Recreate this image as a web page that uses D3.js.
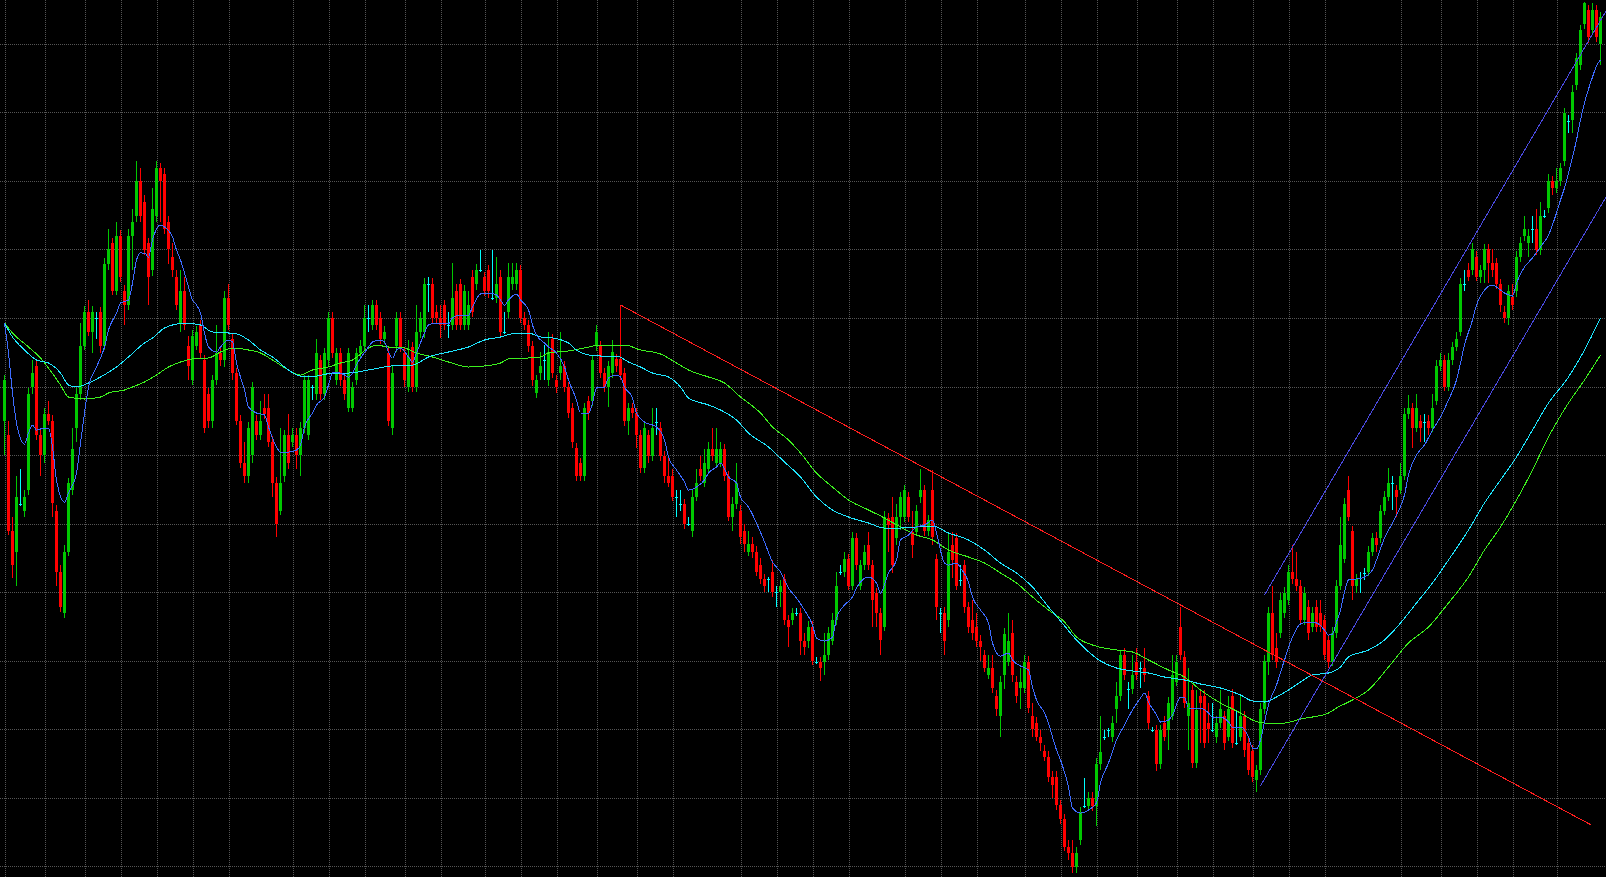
<!DOCTYPE html>
<html>
<head>
<meta charset="utf-8">
<script src="https://cdn.jsdelivr.net/npm/d3@7"></script>
<style>
  html, body { margin: 0; padding: 0; background: #000; overflow: hidden; }
  svg { display: block; }
</style>
</head>
<body>
<svg id="chart" width="1606" height="877"></svg>
<script>
// ---- price bars (400 sessions, oldest first) ----
const opens = [
579.3,565,469.3,448.3,496,489.3,510,612.7,634,565,
545,586,579.3,489.3,428.3,386.7,448.3,510,572,606,
654.3,688,668.3,682,688,654.3,736,757,709.3,764,
709.3,695,764,784,819,798,757,730,784,832,
826,778,743.3,723.3,677,709.3,654.3,620,654.3,675,
640,606,579.3,620,647.3,640,702,661.3,627.3,579.3,
536.7,524,545,579.3,565,592.3,592.3,558.3,517.3,489.3,
524,565,558.3,565,545,572,565,612.7,606,640,
606,640,682,620,647.3,620,592.3,592.3,620,647.3,
654.3,682,675,695,682,661.3,647.3,572,654.3,682,
647,613,653,613,668,668,716,716,688,682,
695,675,675,709,716,675,675,723,716,730,
723,730,702,702,723,668,688,716,716,730,
682,675,654,607,627,640,620,661,620,627,
634,613,592,552,537,524,599,599,654,654,
627,613,627,641,641,627,579,592,587,565,
532,565,544,578.3,572,544,524,524,502.7,496,
496,476,469.3,503.3,531,517.3,530.7,550.7,537.3,537.3,
550.7,524,483.3,496,489.3,469.3,448.3,456,448.3,435,
421,421,427.7,407.7,407.7,421,380,380,386.7,386.7,
359.3,359.3,373.3,338.3,338.3,338.3,345,359.3,380,427.7,
427.7,441,414.3,461.7,414,435,455,435,407.3,386.7,
373.3,482,482.7,461.7,482.7,482.7,502.7,468.3,468.3,503.3,
510,469.3,510,441,386.7,386.7,380,455,461.7,420,
435,393.3,380,373.3,359.3,345,325.3,331.7,304,284,
325.3,338.3,366.7,318,311.7,311.7,338.3,284,277.3,263.3,
249.3,243.3,222.7,222.7,195,180.7,153.3,146.7,132.7,160,
194,194,201.7,194,236,263.3,270,263.3,290.7,304,
345,310.7,310.7,338.3,331.7,331.7,304,270,270,236,
277.3,270,284,318.3,373.3,343.3,284,310,236.7,304,
304,277.3,270,263.3,277.3,284,263.3,304,256.7,263.3,
284,256.7,249.3,220,230,290.7,338.3,386.7,351.7,366.7,
387.3,400,428.3,420.7,414,380,393.3,373.3,393.3,386.7,
380,360,338.3,366.7,414,441.3,510,469,414,421.7,
427.3,428.3,448.3,461.7,461.7,489.3,503.3,516.7,510,510,
524,586,591.7,571.7,579.3,578.3,579.3,571.7,599.3,634,
640,613.3,640,653.3,668.3,716,730,730,743.3,723.3,
730,750.7,736.7,736.7,716,688.3,681.7,702.7,709.3,743.3,
764,757.3,770.7,770.7,750,784,791.7,819,811.7,819,
839.3,879.3,880,915,935,976,990,970,990,955.7
];
const highs = [
625,579.3,483.3,524,531,510,612,640,640,570,
592,599,585,495,435,455,522,572,612,677,
694,700,694,688,693,742,771.3,762,778,770,
715,771.3,791,839,832,805,762,812,839,837,
832,784,757,730,730,723.3,664,670,674,680,
645,612,625,675,652,709.3,716,667,632,585,
558.3,578,618,585,599,606,606,564,523,572,
570,586,572,572,578,625,625,615,661.3,645,
652,688,688,652,652,625,652,618,652,660,
695,695,700,700,688,674,653,634,688,688,
652,660,658,695,688,722,723,722,695,695,
700,688,737,716,721,715,709,730,736,750,
728,735,750,743,730,688,737,737,737,735,
688,680,659,625,648,655,668,666,625,668,
639,618,597,557,542,597,604,645,675,659,
632,639,660,646,695,632,597,597,592,570,
577,570,592,592,578.3,549,544,531,510,510,
501,483,510,531,544,550.7,558.3,572,572,558.3,
556,529,503.3,537.3,495,476,469.3,462.7,454,441.7,
426,423,440,414.3,420,426,385,392,392,392,
366.7,379,379,343,343,366.7,373.3,386.7,427.7,435,
448.3,446,468.3,467,440,455,468.3,440,412,392,
489.3,487,502.7,496,508,515,508,489.3,495,531,
515,485,530,446,392,393.3,468.3,468.3,467,435,
440,398,400,386.7,365,350,345,345,310,324,
372,386.7,380,324,332.3,345,344,297,283,270,
255,249,229.3,229.3,200,186,160,160,153.3,193,
222,208.3,208.3,242,284,270,272,284,318.3,350,
351.7,318.3,345,351.7,338.3,351.7,309,273,275,275,
284,303,345,345,393.3,349,332,315,310,310,
310,297.3,297,284,310,289,304,310.7,290,304,
289,263.3,255,235,297,345,393,414,367,407.3,
413,435,455,448.3,420,413,400,393.3,400,400,
385,365,373,420,483.3,502,524,474,426,428,
432,454,467,468.3,495,509,532,524,515,537,
592,605,597,606,585,586,585,606,640,647,
645,647,658,668.3,722,730,736.7,757.3,749,735,
756,756,750.7,742,721,694,715,716,749,763,
784,770.7,784,790.7,798.3,790,826,824,831.7,837,
892,885,915,947,975,998,995,996.7,995,988
];
const lows = [
545,465,422,414.3,494,483.3,505,606,560,524,
537,575,483.3,414.3,388,382,444,505,558.3,600,
650,664,647.3,661.3,647.3,650,730,705,705,718,
675,690,730,778,778,745,695,724,778,778,
766,736,723.3,690,668.3,670,620,615,650,642,
567,572,572,615,634,633.3,670,620,575,532,
517.3,517.3,537,560,560,581,553,503.3,462.7,485,
518,531,553,531,524,567,560,600,600,600,
600,634,642,615,614,600,588,588,615,642,
650,668.3,670,670,656,656,574,565,648,648,
613,608,608,608,662,662,688,676,677,662,
670,662,670,670,670,670,670,683,710,728,
704,702,700,697,663,666,682,710,710,677,
670,648,614,602,620,620,614,622,607,620,
608,582,552,519,519,519,580,594,649,622,
608,593,622,628,620,574,565,582,552,527,
527,537,539,565,539,517.3,513,499,483.3,489.3,
471,474,462.7,499,519,513,526,539,533,533,
519,479,469.3,491,456,448.3,444,441.7,424,416,
407.7,408,403,393.3,393.3,375,353.3,375,384,345,
345,352,335,336,319,325,340,355,375,425,
423,410,410,430,410,430,430,373.3,373.3,345,
369,448.3,427.3,455,470,478,478,441.7,464,496.7,
464,464,455,380,366.7,345,373.3,422,410,414,
386.7,366.7,360,352.7,339.3,328,321,307,284,263.3,
311.3,334,318,297.3,290.7,307,287,263.3,259,249.3,
239,218,201.7,190,176,149,140,126.7,126.7,155,
192,189,189,174,230,260,263,258,276.7,299,
320,290.7,306,320,311.7,318.3,270.7,268,229.3,231,
259,250,280,314,340,292,250,232,232,257,
252,256.7,268,256.7,272,250,259,252,255,259,
243.3,225,218,208.3,225,286,325,340,332,362,
382,395,416,409,375,375,360,368,368,368,
340,332,334,362,410,437,479,400,407.3,407.3,
420,424,444,448.3,457,485,499,490,483.3,506,
520,581,551.7,568,558.3,558.3,565,568,595,629,
609,609,635,649,664,709.3,719,725,719,717,
717,717,723.3,711,688.3,677,675,690,703,738,
759,743.3,757.3,745,745,782,787,805,807,814,
834,866.7,866.7,910,930,971,956.7,965,958,935
];
const closes = [
620,469.3,435,503.3,496,503.3,606,627.3,565,545,
586,579.3,497,428.3,393.3,448.3,517.3,551,606,654.3,
688,668.3,688,682,654.3,736,751,709.3,764,723.3,
695,764,778,819,784,750,723.3,791,832,819,
771.3,751,730,695,709.3,675,634.3,664,668.3,647.3,
572,579.3,620,647.3,640,702,675,627.3,579.3,536.7,
524,572,612.7,565,579.3,586,558.3,517.3,475.7,517.3,
565,536.7,565,545,572,620,620,612.7,647.3,606,
647.3,682,647.3,647,620,606,647.3,613,647.3,654.3,
682,682,695,675,661.3,668.3,579.3,627.3,682,653.3,
620,643,613,668,682,716,716,682,682,675,
675,675,702,675,675,709,695,688,730,730,
709,709,702,716,668,668,723,723,730,682,
675,654,620,620,634,640,648,627,613,634,
613,587,558,524,524,592,587,640,668,627,
613,634,648,634,625,579,592,587,565,532,
572,544,572,578.3,544,524,517.3,503.3,502.7,496,
476,476,503.3,517.3,524,537.3,550.7,544,550.7,550.7,
524,483.3,496,517.3,462.7,456,456,448.3,428.3,421,
414.3,421,407.7,407.7,414.3,380,373.3,386.7,386.7,359.3,
352.7,373.3,339.3,338.3,331.7,345,366.7,380,414.3,427.7,
441,414.3,461.7,435,435,448.3,435,400,386.7,360,
482.7,475,435,482.7,502.7,510,482.7,455,489.3,510,
469.3,480,463.3,393.3,386.7,359.3,448.3,440,414,420,
393.3,373.3,366.7,359.3,352.7,332.3,332.3,311.7,290.7,318,
366,359,325,304,318,338.3,291.7,270.7,263.3,256.7,
243.3,222.7,215,195,180.7,153.3,146.7,132.7,146.7,187.3,
194,201.7,194,236,248.3,263.3,270,276.7,304,345,
325,310.7,325,325,331.7,325,277.3,270,236,270,
263.3,297.3,325,338.3,345,296.7,296.7,236.7,290,296.7,
256.7,270.7,270,277.3,290.7,256.7,290.7,256.7,256.7,284,
250,230,222.7,230,290.7,339.3,386.7,345,338.3,400,
407,428.3,420.7,414,380,407.3,366.7,386.7,373.3,373.3,
345,338.3,366.7,414,455,496,483.3,414,420.7,421.7,
427.3,448.3,461.7,455,489.3,503.3,517.3,516.7,503.3,524,
586,591.7,571.7,591.7,571.7,578.3,571.7,591.7,634,640,
613.3,640,653.3,660.7,716,716,723.3,750.7,723.3,730,
750.7,736.7,730,716,695,681.7,709.3,695,743.3,757.3,
770.7,764,770.7,750,784,784,819,811.7,819,831.7,
886.7,879.3,907.7,941.7,970,996.7,963.3,990,963.3,982.7
];

// ---- indicator lines: [bar, value] ----
const fastMA = [
[0,677],[1,647],[2,607],[3,577],[5,556],[6,567],[7,575],[8,570],[10,572],[11,572],[12,553],[13,520],[15,498],[16,507],[18,527],[19,557],[20,587],[21,613],[23,633],[25,653],[26,670],[28,687],[29,697],[31,700],[32,717],[33,740],[34,747],[35,747],[36,743],[37,760],[39,775],[40,773],[42,763],[43,750],[44,740],[45,727],[46,713],[47,700],[48,695],[49,687],[50,667],[51,653],[53,648],[54,653],[56,660],[57,658],[58,637],[60,610],[61,593],[63,587],[65,585],[66,573],[68,553],[69,548],[71,548],[73,550],[74,555],[75,573],[77,587],[78,595],[80,603],[81,615],[82,627],[83,628],[85,625],[86,623],[87,627],[88,635],[91,653],[92,658],[94,660],[95,658],[96,648],[97,642],[98,650],[99,652],[101,643],[102,638],[103,647],[105,667],[106,675],[108,677],[111,676],[112,682],[114,685],[116,685],[117,693],[119,706],[121,707],[123,705],[124,700],[125,695],[126,700],[128,706],[129,700],[131,690],[132,675],[133,665],[135,657],[136,653],[138,647],[140,633],[141,620],[143,600],[144,587],[146,587],[147,597],[148,612],[150,613],[151,622],[153,625],[154,623],[155,613],[157,602],[158,587],[160,578],[162,575],[163,573],[165,560],[166,543],[168,530],[170,518],[171,510],[173,513],[175,520],[176,527],[178,533],[179,537],[181,523],[183,517],[184,503],[186,493],[188,477],[190,458],[192,438],[194,428],[196,412],[198,402],[200,390],[202,375],[203,362],[205,359],[207,363],[208,382],[210,395],[212,403],[213,412],[214,418],[216,423],[218,417],[219,407],[221,427],[223,440],[224,460],[226,465],[228,473],[230,475],[232,480],[233,467],[235,437],[236,435],[238,437],[239,432],[241,418],[242,403],[244,390],[246,377],[247,357],[249,344],[251,347],[252,340],[254,334],[256,330],[257,313],[258,300],[260,287],[261,277],[262,263],[263,250],[264,240],[266,213],[267,192],[269,187],[271,190],[273,197],[274,217],[276,237],[278,260],[280,275],[282,290],[284,302],[285,307],[286,298],[288,285],[289,278],[291,280],[292,285],[294,303],[295,303],[296,292],[299,292],[301,287],[302,283],[304,283],[306,278],[307,273],[309,273],[311,263],[312,252],[313,251],[314,260],[315,278],[316,295],[318,315],[320,340],[322,363],[324,376],[326,378],[328,377],[330,370],[331,365],[332,366],[333,378],[334,390],[335,408],[336,420],[338,421],[340,423],[342,430],[343,440],[345,462],[347,477],[348,485],[350,505],[351,525],[353,545],[355,555],[357,570],[359,583],[361,600],[363,620],[364,637],[365,655],[367,680],[368,695],[370,710],[372,715],[373,713],[375,707],[377,704],[378,717],[380,733],[382,742],[384,753],[386,765],[388,787],[389,800],[390,812],[392,843],[393,860],[394,880],[395,897],[397,923],[398,934],[399,940]
];
const midMA = [
[0,677],[2,663],[5,650],[8,640],[11,637],[14,627],[16,615],[18,613],[21,617],[24,623],[28,633],[31,643],[35,657],[37,662],[40,672],[42,675],[45,677],[49,675],[52,668],[56,667],[57,667],[61,660],[64,650],[67,643],[71,630],[74,624],[78,624],[82,627],[86,627],[91,630],[95,633],[99,635],[102,635],[106,643],[111,648],[116,653],[120,660],[124,663],[128,667],[131,667],[134,663],[137,662],[141,657],[143,650],[146,645],[149,644],[153,644],[156,638],[159,633],[162,627],[166,623],[169,613],[171,602],[176,595],[179,590],[183,580],[186,567],[191,553],[195,538],[199,523],[203,503],[207,490],[211,483],[216,477],[220,472],[224,472],[228,473],[232,474],[236,467],[241,460],[245,450],[249,437],[253,427],[257,413],[261,393],[264,379],[268,360],[274,339],[278,332],[282,329],[286,327],[290,323],[295,320],[299,316],[304,312],[309,305],[312,299],[315,298],[318,303],[321,310],[324,318],[327,325],[331,327],[334,333],[336,343],[341,350],[345,360],[349,377],[353,397],[357,417],[361,440],[366,470],[370,497],[374,520],[378,543],[382,570],[386,597],[391,623],[395,650],[399,682]
];
const slowMA = [
[0,677],[2,667],[6,653],[9,642],[11,632],[14,615],[16,603],[20,601],[24,603],[26,607],[30,610],[32,613],[35,618],[38,625],[41,633],[44,638],[47,641],[51,642],[54,648],[57,652],[61,650],[64,647],[67,640],[71,630],[74,625],[77,630],[81,633],[84,637],[87,640],[91,652],[93,655],[96,653],[99,653],[103,647],[107,643],[111,638],[116,633],[120,634],[124,637],[126,641],[131,642],[134,643],[136,647],[141,649],[145,652],[149,655],[155,655],[159,650],[164,646],[168,637],[171,630],[176,623],[180,617],[184,603],[189,587],[192,573],[196,560],[199,547],[203,527],[207,513],[211,500],[216,490],[220,482],[224,473],[228,465],[232,460],[236,450],[241,443],[245,437],[249,427],[253,417],[257,403],[261,390],[265,378],[268,363],[272,355],[278,350],[282,348],[286,340],[291,330],[295,323],[299,310],[304,297],[309,287],[312,280],[315,277],[320,277],[324,281],[327,283],[331,287],[333,292],[337,300],[341,310],[346,333],[351,357],[356,373],[361,397],[366,423],[370,450],[374,473],[378,500],[382,530],[386,563],[391,597],[395,620],[399,645]
];

// ---- drawn objects ----
const trendBars = [154, 396.6];
const trendPrices = [695, 175.2];
const channelLowerBars = [314, 399];
const channelLowerPrices = [214.2, 793.6];
const channelUpperBars = [315, 399];
const channelUpperPrices = [405, 979.6];

// ---- grid ----
const gridBars = [0,10,20,29,38,47,56,72,81,90,100,109,120,129,138,148,158,167,184,193,202,211,225,234,243,255,264,273,283,293,302,312,321,330,349,359,368,377,388];
const gridLevels = [955.5,887.5,818.5,750.5,681.5,612.5,544.5,475.5,407.5,338.5,270.5,201.5,133.5];

// ---- layout ----
const W = 1606, H = 877;
const x = d3.scaleLinear().domain([0, 399]).range([4.5, 1600.5]);
const y = d3.scaleLinear().domain([123, 1000]).range([H, 0]);

const svg = d3.select('#chart');
svg.append('rect').attr('width', W).attr('height', H).attr('fill', '#000');

const grid = svg.append('g')
  .attr('stroke', '#555')
  .attr('stroke-width', 1)
  .attr('stroke-dasharray', '1,1')
  .attr('shape-rendering', 'crispEdges');
grid.selectAll('line.h').data(gridLevels).join('line')
  .attr('class', 'h')
  .attr('x1', 0).attr('x2', W)
  .attr('y1', d => Math.floor(y(d)) + 0.5)
  .attr('y2', d => Math.floor(y(d)) + 0.5);
grid.selectAll('line.v').data(gridBars).join('line')
  .attr('class', 'v')
  .attr('y1', 0).attr('y2', H)
  .attr('x1', d => x(d) + 1)
  .attr('x2', d => x(d) + 1);

// ---- candles ----
const bars = opens.map((o, i) => ({ i, o, h: highs[i], l: lows[i], c: closes[i] }));
const colorOf = d => d.c > d.o ? '#00c800' : (d.c < d.o ? '#ff0000' : '#00ffff');

const candles = svg.append('g').attr('shape-rendering', 'crispEdges');
const g = candles.selectAll('g').data(bars).join('g');
g.append('line')
  .attr('x1', d => x(d.i)).attr('x2', d => x(d.i))
  .attr('y1', d => y(d.h)).attr('y2', d => y(d.l))
  .attr('stroke', colorOf).attr('stroke-width', 1);
g.filter(d => d.o !== d.c).append('rect')
  .attr('x', d => x(d.i) - 1.5)
  .attr('width', 3)
  .attr('y', d => y(Math.max(d.o, d.c)))
  .attr('height', d => Math.max(1, Math.abs(y(d.o) - y(d.c))))
  .attr('fill', colorOf);
g.filter(d => d.o === d.c).append('line')
  .attr('x1', d => x(d.i) - 1.5).attr('x2', d => x(d.i) + 1.5)
  .attr('y1', d => Math.round(y(d.o)) + 0.5).attr('y2', d => Math.round(y(d.o)) + 0.5)
  .attr('stroke', colorOf).attr('stroke-width', 1);

// ---- moving averages (aliased 1px strokes) ----
const maLine = d3.line().x(d => x(d[0])).y(d => y(d[1])).curve(d3.curveMonotoneX);
const lines = svg.append('g')
  .attr('fill', 'none')
  .attr('stroke-width', 1)
  .attr('shape-rendering', 'crispEdges');
lines.append('path').attr('d', maLine(slowMA)).attr('stroke', '#3cf01e');
lines.append('path').attr('d', maLine(midMA)).attr('stroke', '#1ee6ff');
lines.append('path').attr('d', maLine(fastMA)).attr('stroke', '#3d6cff');

// ---- trend line ----
lines.append('line')
  .attr('x1', x(trendBars[0])).attr('y1', y(trendPrices[0]))
  .attr('x2', x(trendBars[1])).attr('y2', y(trendPrices[1]))
  .attr('stroke', '#ff1e1e');

// ---- rising channel, extended to the right edge ----
function ray(bars, prices) {
  const slope = (prices[1] - prices[0]) / (bars[1] - bars[0]);
  const endBar = x.invert(W + 2);
  return [[bars[0], prices[0]], [endBar, prices[0] + slope * (endBar - bars[0])]];
}
[ray(channelLowerBars, channelLowerPrices), ray(channelUpperBars, channelUpperPrices)].forEach(seg => {
  lines.append('line')
    .attr('x1', x(seg[0][0])).attr('y1', y(seg[0][1]))
    .attr('x2', x(seg[1][0])).attr('y2', y(seg[1][1]))
    .attr('stroke', '#4a4ae0');
});
</script>
</body>
</html>
